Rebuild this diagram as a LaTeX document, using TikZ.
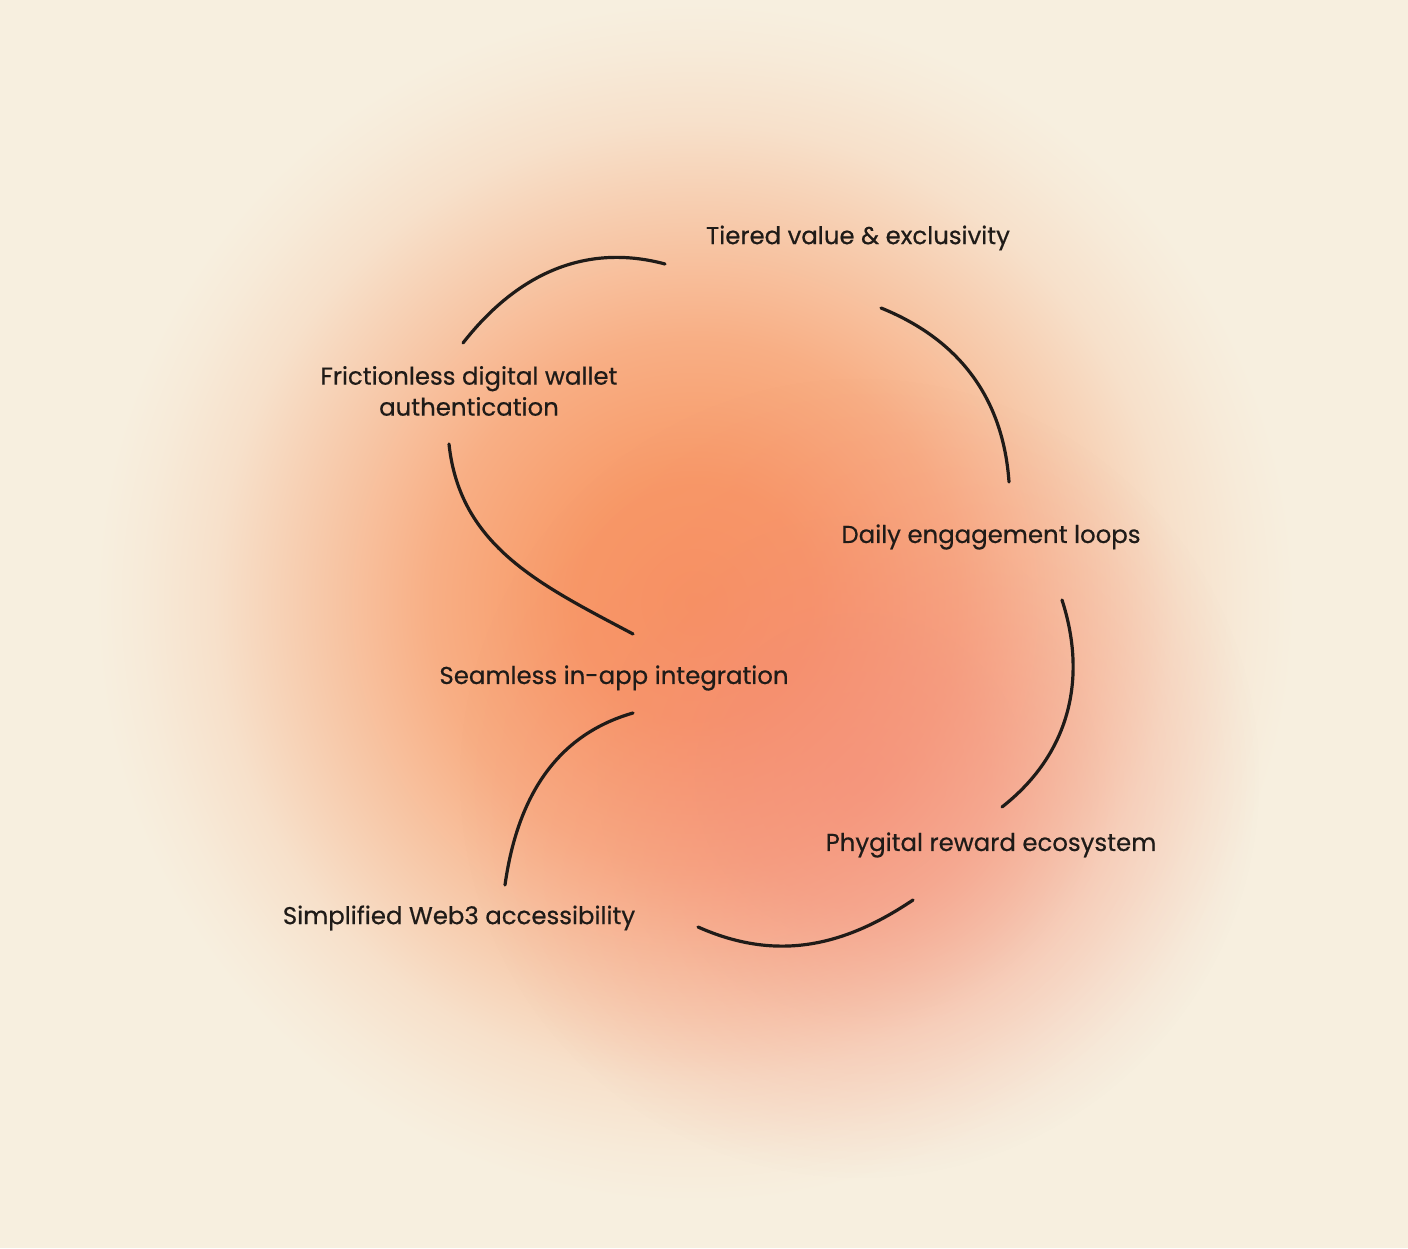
\documentclass[tikz,border=0pt]{standalone}
\usepackage{fontspec}
\setmainfont{Poppins}[FakeBold=0.5]
\usetikzlibrary{calc, fadings}
\definecolor{cream}{HTML}{F7EFDF}
\definecolor{ccore}{HTML}{F8935E}
\definecolor{cblush}{HTML}{F3887A}
\definecolor{cink}{HTML}{1F1B18}
\pgfdeclareradialshading{glow}{\pgfpointorigin}{color(0bp)=(ccore); color(5bp)=(ccore!94!cream); color(11bp)=(ccore!70!cream); color(16bp)=(ccore!40!cream); color(20bp)=(ccore!16!cream); color(23bp)=(ccore!5!cream); color(25bp)=(cream); color(50bp)=(cream)}
\pgfdeclareradialshading{blushmask}{\pgfpointorigin}{color(0bp)=(pgftransparent!0); color(8bp)=(pgftransparent!20); color(16bp)=(pgftransparent!65); color(25bp)=(pgftransparent!100); color(50bp)=(pgftransparent!100)}
\pgfdeclarefading{blushfade}{\pgfuseshading{blushmask}}
\tikzset{
  stage/.style={text=cink, font=\fontsize{12.2}{15.5}\selectfont, align=center, inner sep=0pt},
  link/.style={draw=cink, line width=1.6pt, line cap=round},
}

\begin{document}
\begin{tikzpicture}[x=0.5pt, y=0.5pt]
  \useasboundingbox (0,0) rectangle (1408,1248);
  % backdrop and glow
  \fill[cream] (0,0) rectangle (1408,1248);
  \shade[shading=glow] (695,645) circle (600);
  \fill[cblush, path fading=blushfade, fill opacity=0.6] (860,470) circle (400);
  % stages of the loop
  \node[stage] (tier) at (858,1010) {Tiered value \& exclusivity};
  \node[stage] (wallet) at (469,857) {Frictionless digital wallet\\authentication};
  \node[stage] (daily) at (991,711) {Daily engagement loops};
  \node[stage] (seam) at (614,570) {Seamless in-app integration};
  \node[stage] (phyg) at (991,403) {Phygital reward ecosystem};
  \node[stage] (simp) at (459,330) {Simplified Web3 accessibility};
  % hand-drawn arcs
  \draw[link] ($(wallet.center)+(-6,48)$) to[out=52, in=165] ($(tier.center)+(-193,-26)$);
  \draw[link] ($(tier.center)+(23,-70)$) to[out=-22, in=94] ($(daily.center)+(18,55)$);
  \draw[link] ($(daily.center)+(71,-63)$) to[out=-72, in=38] ($(phyg.center)+(11,38)$);
  \draw[link] ($(phyg.center)+(-78,-55)$) to[out=214, in=-24] ($(simp.center)+(239,-9)$);
  \draw[link] ($(simp.center)+(46,33)$) to[out=82, in=196] ($(seam.center)+(19,-35)$);
  \draw[link] ($(wallet.center)+(-20,-53)$) to[out=-84, in=152] ($(seam.center)+(19,44)$);
\end{tikzpicture}
\end{document}
